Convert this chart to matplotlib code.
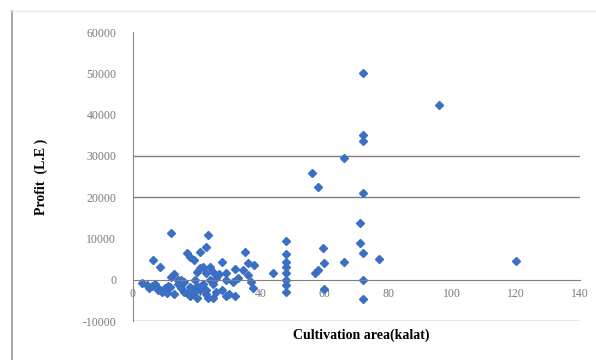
import matplotlib.pyplot as plt
from matplotlib.lines import Line2D

plt.rcParams['axes.unicode_minus'] = False

# cultivation area (kalat) vs profit (L.E)
AREA = [3, 4.4, 5, 6, 6.3, 7, 7.5, 8, 8.5, 9, 10, 10.6, 11, 11.6, 12, 12, 13, 13,
        14, 14, 15, 15, 16, 16, 17, 17, 18, 18, 18, 19, 19, 19.5, 20, 20, 20, 21,
        21, 21, 22, 22, 23, 23, 23, 23, 23.6, 23.6, 24, 24, 25, 25, 25, 26, 26,
        27, 28, 28, 29, 29, 29, 30, 31.5, 32, 32, 33, 34.6, 35, 36, 36, 37, 37.7,
        38, 44,
        48, 48, 48, 48, 48, 48, 48, 48,
        56, 57, 58, 58, 59.5, 60, 60, 66, 66,
        71, 71, 72, 72, 72, 72, 72, 72, 72, 77, 96, 120]
PROFIT = [-700, -1200, -2000, -1500, 4800, -1000, -1700, -2500, 3200, -3000,
          -2000, -3100, -1500, -1700, 700, 11300, 1500, -3500, -1000, 0, 0,
          -2000, -500, -3000, -3100, 6500, -1700, 5600, -4000, 4800, -3000, 0,
          2000, -1500, -4500, 2900, 6700, -2500, 3000, -1000, 1700, 8000, -2400,
          -3500, 10800, -4300, 0, 3000, 2000, -1000, -4500, 500, -3000, 1500,
          4300, -2400, 1700, -4000, 0, -3500, -500, -4000, 2500, 500, 2400, 6700,
          4100, 1200, -500, -1900, 3500, 1700,
          9400, 6200, 4300, 3100, 1700, 0, -1200, -2900,
          25800, 1700, 22400, 2400, 7700, 4100, -2200, 29400, 4300,
          13700, 9000, 50100, 35000, 33700, 21000, 6500, 0, -4600, 5000, 42400,
          4600]

X_TICKS = [0, 20, 40, 60, 80, 100, 120, 140]
Y_TICKS = [-10000, 0, 10000, 20000, 30000, 40000, 50000, 60000]
GRID_Y = [-10000, 20000, 30000]

fig = plt.figure(figsize=(5.96, 3.6), dpi=100)
ax = fig.add_axes([0.223, 0.108, 0.75, 0.803])

ax.plot(AREA, PROFIT, 'D', ms=4.5, color='#3b6fc4', mec='#3b6fc4')

for g in GRID_Y:
    ax.axhline(g, color='#7f7f7f', lw=1.0, zorder=0)

ax.set_xlim(0, 140)
ax.set_ylim(-10000, 60000)
ax.set_xticks(X_TICKS)
ax.set_yticks(Y_TICKS)

ax.spines['top'].set_visible(False)
ax.spines['right'].set_visible(False)
ax.spines['bottom'].set_position(('data', 0))
ax.spines['bottom'].set_color('#7f7f7f')
ax.spines['left'].set_color('#8a8a8a')
ax.tick_params(axis='y', length=0, colors='#7a7a7a', labelsize=8.5, pad=12)
ax.tick_params(axis='x', length=0, colors='#7a7a7a', labelsize=8.5, pad=6)
for lab in ax.get_xticklabels() + ax.get_yticklabels():
    lab.set_family('Liberation Serif')

ax.set_ylabel('Profit  (L.E )', family='Liberation Serif', fontweight='bold',
              fontsize=10)
ax.yaxis.set_label_coords(-0.19, 0.5)
ax.set_xlabel('Cultivation area(kalat)', family='Liberation Serif',
              fontweight='bold', fontsize=10)
ax.xaxis.set_label_coords(0.51, -0.025)

# outer chart frame
fig.add_artist(Line2D([0.02, 0.02], [0.0, 0.97], color='#9a9a9a', lw=1.2))
fig.add_artist(Line2D([0.02, 1.0], [0.97, 0.97], color='#e8e8e8', lw=1.0))

fig.savefig('out.png', dpi=100)
